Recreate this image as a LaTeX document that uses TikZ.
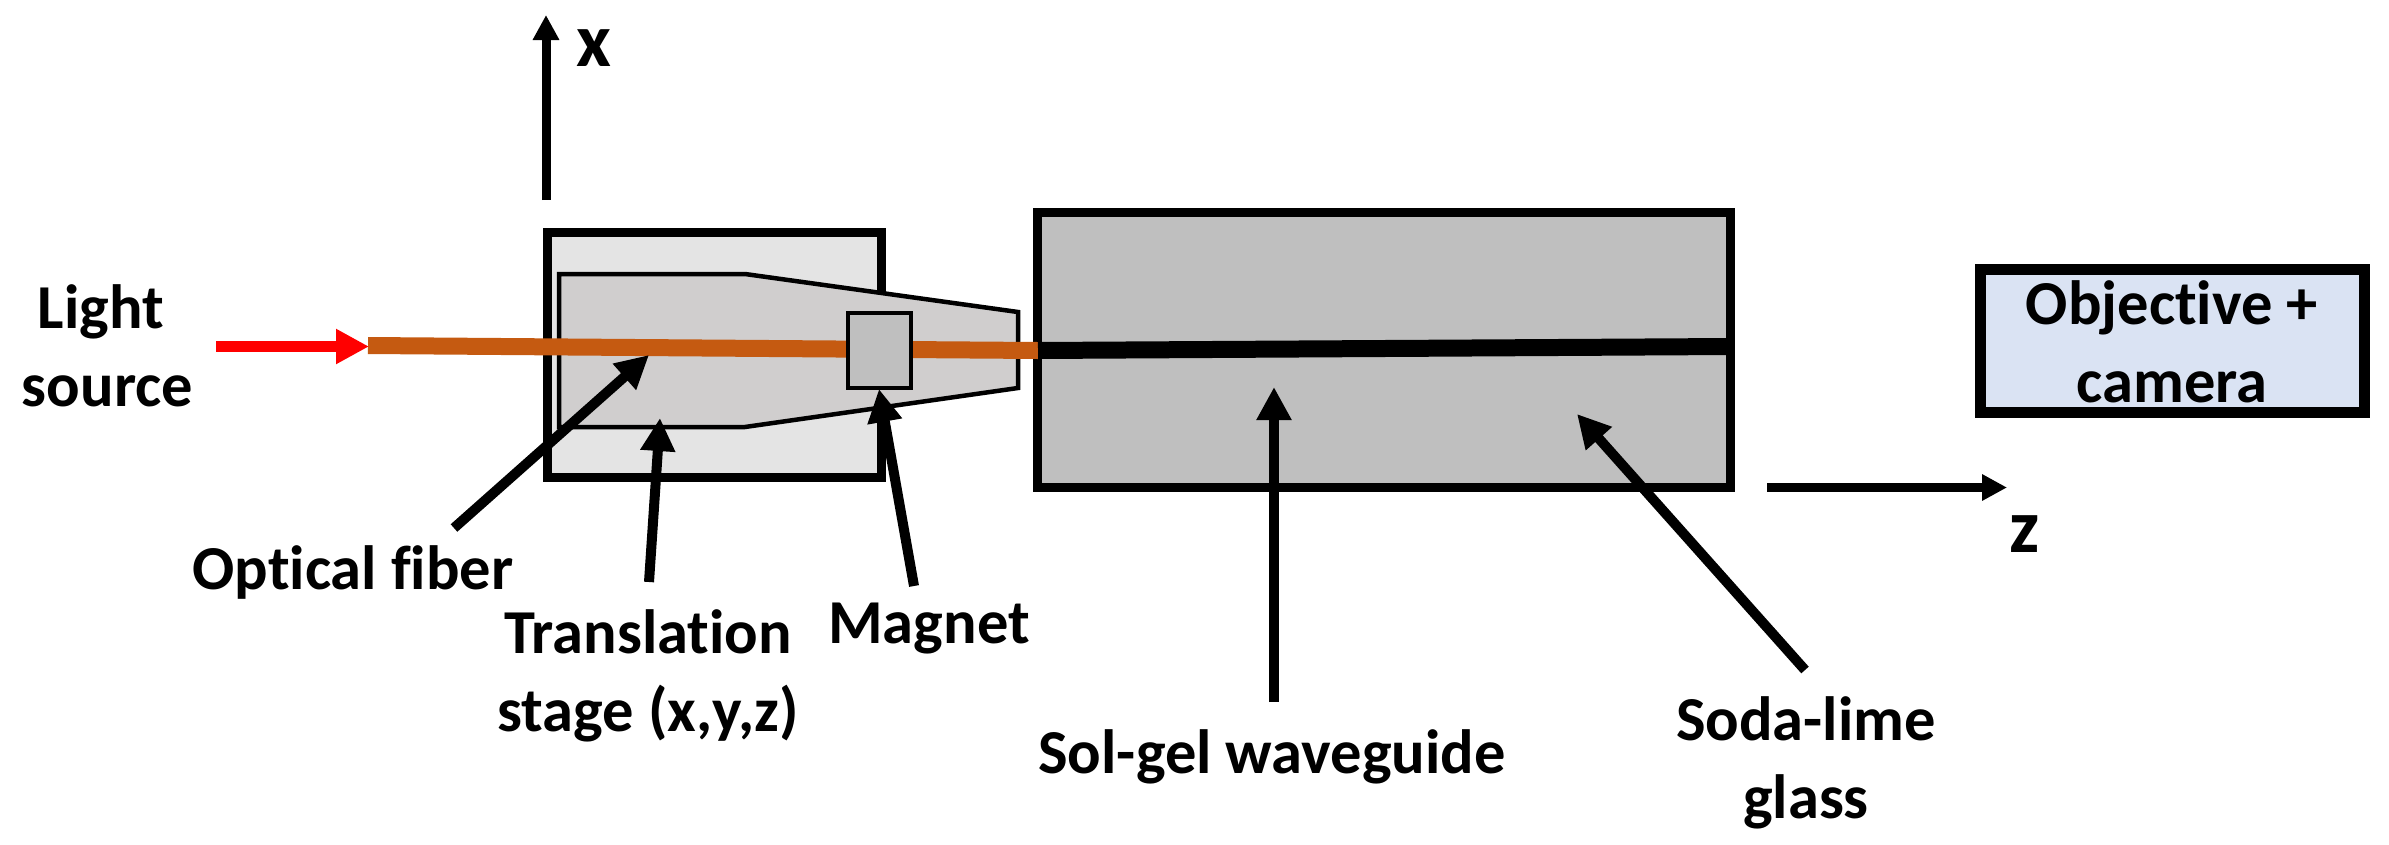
\documentclass[tikz,border=0pt]{standalone}
\usepackage{fontspec}
\setmainfont[Ligatures=NoCommon]{Carlito}
\usetikzlibrary{arrows.meta}
\definecolor{stagegray}{HTML}{E4E4E4}
\definecolor{holdergray}{HTML}{D0CECE}
\definecolor{glassgray}{HTML}{BFBFBF}
\definecolor{campale}{HTML}{DAE3F3}
\definecolor{fibercol}{HTML}{C55A11}
\tikzset{
 box/.style={draw=black,line width=9pt},
 thin box/.style={draw=black,line width=4.5pt},
 arr/.style={draw=black,line width=10pt,-{Triangle[length=33pt,width=33pt]}},
 axis/.style={draw=black,line width=9pt,-{Triangle[length=25pt,width=25pt]}},
 lab/.style={font=\bfseries\fontsize{62.5}{78}\selectfont,align=center,text=black,inner sep=0pt},
 axlab/.style={font=\bfseries\fontsize{76}{78}\selectfont,text=black,inner sep=0pt}
}
\begin{document}
\begin{tikzpicture}[x=1pt,y=-1pt]
\useasboundingbox (0,0) rectangle (2389,844);
\draw[box,fill=stagegray] (547,232.5) rectangle (881,477.5);
\draw[thin box,fill=holdergray,miter limit=10] (559,274) -- (745,274) -- (1018,312) -- (1018,388) -- (745,427) -- (559,427) -- cycle;
\draw[box,fill=glassgray] (1037,212.5) rectangle (1730,487.5);
\draw[box,line width=11pt,fill=campale] (1980.5,269.5) rectangle (2364.5,412.5);
\coordinate (f0) at (368,345.5);
\coordinate (f1) at (1038,350.5);
\coordinate (w1) at (1730,346.5);
\draw[draw=fibercol,line width=17pt] (f0) -- (f1);
\draw[draw=black,line width=17pt] (f1) -- (w1);
\draw[thin box,fill=glassgray] (848,313) rectangle (911,388);
\coordinate (s0) at (216,346.5); \coordinate (s1) at (369,346.5);
\draw[draw=red,line width=11pt,-{Triangle[length=33pt,width=33pt]}] (s0) -- (s1);
\node[lab] (light) at (107.5,346) {Light\hspace*{13pt}\\source};
\node[lab] (ofib) at (353,572) {Optical fiber};
\node[lab] (trans) at (648,676) {Translation\\stage (x,y,z)};
\node[lab] (mag) at (929,629) {Magnet};
\node[lab] (sol) at (1272,757) {Sol-gel waveguide};
\node[lab] (soda) at (1806,763) {Soda-lime\\glass};
\node[lab] (obj) at (2172,342) {Objective +\\camera};
\node[axlab] (xl) at (594,48) {x};
\node[axlab] (zl) at (2024.5,534) {z};
\coordinate (a1) at (454,528); \coordinate (a1e) at (649,355);
\coordinate (a2) at (649,582); \coordinate (a2e) at (660,418);
\coordinate (a3) at (914,586); \coordinate (a3e) at (879,389);
\coordinate (a4) at (1274,702); \coordinate (a4e) at (1274,387);
\coordinate (a5) at (1805,670); \coordinate (a5e) at (1577,414);
\draw[arr] (a1) -- (a1e);
\draw[arr] (a2) -- (a2e);
\draw[arr] (a3) -- (a3e);
\draw[arr] (a4) -- (a4e);
\draw[arr] (a5) -- (a5e);
\coordinate (xo) at (546,200); \coordinate (xe) at (546,15);
\coordinate (zo) at (1767,487.5); \coordinate (ze) at (2007,487.5);
\draw[axis] (xo) -- (xe);
\draw[axis] (zo) -- (ze);
\end{tikzpicture}
\end{document}
